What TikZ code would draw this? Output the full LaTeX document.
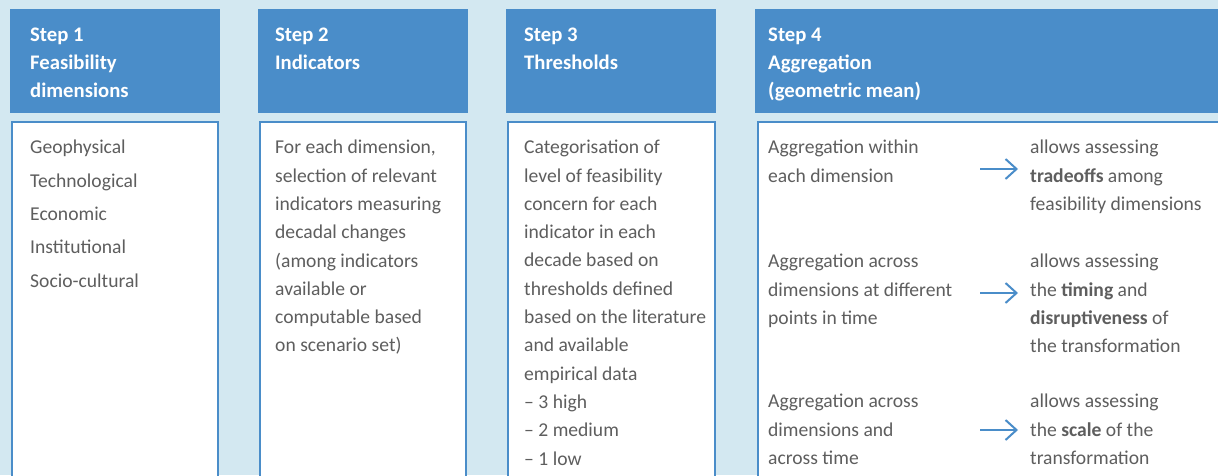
\documentclass[tikz,border=0pt]{standalone}
\usepackage{fontspec}
\setmainfont{Carlito}
\usetikzlibrary{positioning, arrows.meta}
\definecolor{panelbg}{HTML}{D3E8F1}
\definecolor{stepblue}{HTML}{4A8DC9}
\definecolor{bodygray}{HTML}{5E5E5E}
\tikzset{
  head/.style    = {rectangle, fill=stepblue, anchor=north west, inner sep=0pt, outer sep=0pt, minimum height=103.5pt},
  headtxt/.style = {anchor=north west, align=left, inner sep=0pt, text=white, font=\bfseries\fontsize{20.7}{28}\selectfont},
  panel/.style   = {rectangle, draw=stepblue, line width=2pt, fill=white, anchor=north west, inner sep=0pt, outer sep=0pt, minimum height=380pt},
  bodytxt/.style = {anchor=north west, align=left, inner sep=0pt, text=bodygray, font=\fontsize{19.6}{28.3}\selectfont},
  flow/.style    = {-{Straight Barb[length=11pt, width=20pt]}, line width=2pt, draw=stepblue},
}

\begin{document}
\begin{tikzpicture}[x=1pt, y=-1pt]
    \useasboundingbox (0,0) rectangle (1218,475);
    \clip (0,0) rectangle (1218,475);
    \fill[panelbg] (0,0) rectangle (1218,475);

    % step headers
    \node[head, minimum width=210pt] (head1) at (10,9) {};
    \node[head, minimum width=210pt] (head2) at (258,9) {};
    \node[head, minimum width=210pt] (head3) at (506,9) {};
    \node[head, minimum width=480pt] (head4) at (755,9) {};

    \node[headtxt] (ht1) at (30,28) {Step 1\\Feasibility\\dimensions};
    \node[headtxt] (ht2) at (275,28) {Step 2\\Indicators};
    \node[headtxt] (ht3) at (524,28) {Step 3\\Thresholds};
    \node[headtxt] (ht4) at (768,28) {Step 4\\Aggregation\\(geometric mean)};

    % step bodies
    \node[panel, minimum width=206pt] (body1) at (12,122) {};
    \node[panel, minimum width=206pt] (body2) at (260,122) {};
    \node[panel, minimum width=207pt] (body3) at (508,122) {};
    \node[panel, minimum width=480pt] (body4) at (758,122) {};

    \node[bodytxt, font=\fontsize{19.6}{33.3}\selectfont] (bt1) at (30,140)
      {Geophysical\\Technological\\Economic\\Institutional\\Socio-cultural};
    \node[bodytxt] (bt2) at (275,140)
      {For each dimension,\\selection of relevant\\indicators measuring\\decadal changes\\(among indicators\\available or\\computable based\\on scenario set)};
    \node[bodytxt] (bt3) at (524,140)
      {Categorisation of\\level of feasibility\\concern for each\\indicator in each\\decade based on\\thresholds defined\\based on the literature\\and available\\empirical data\\-- 3 high\\-- 2 medium\\-- 1 low};

    % aggregation levels
    \node[bodytxt] (lt1) at (768,140) {Aggregation within\\each dimension};
    \node[bodytxt] (lt2) at (768,254) {Aggregation across\\dimensions at different\\points in time};
    \node[bodytxt] (lt3) at (768,394) {Aggregation across\\dimensions and\\across time};

    \node[bodytxt] (rt1) at (1030,140) {allows assessing\\\textbf{tradeoffs} among\\feasibility dimensions};
    \node[bodytxt] (rt2) at (1030,254) {allows assessing\\the \textbf{timing} and\\\textbf{disruptiveness} of\\the transformation};
    \node[bodytxt] (rt3) at (1030,394) {allows assessing\\the \textbf{scale} of the\\transformation};

    % arrows
    \coordinate (a1) at (980,169);
    \coordinate (a2) at (980,293);
    \coordinate (a3) at (980,430);
    \draw[flow] (a1) -- ([xshift=-12pt]a1 -| rt1.west);
    \draw[flow] (a2) -- ([xshift=-12pt]a2 -| rt2.west);
    \draw[flow] (a3) -- ([xshift=-12pt]a3 -| rt3.west);
\end{tikzpicture}
\end{document}
